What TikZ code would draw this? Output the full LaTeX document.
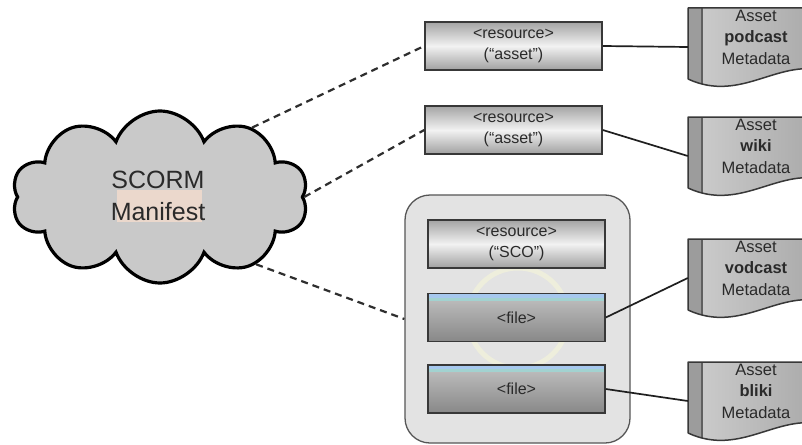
\documentclass[tikz,border=0pt]{standalone}
\usepackage{fontspec}
\setmainfont{Liberation Sans}
\usetikzlibrary{shapes.symbols}

\definecolor{cloudfill}{HTML}{C9C9C9}
\definecolor{peach}{HTML}{EBD8CC}
\definecolor{edge}{HTML}{383838}
\definecolor{textgray}{HTML}{2A2A2A}
\definecolor{boxtop}{HTML}{A4A4A4}
\definecolor{boxmid}{HTML}{F2F2F2}
\definecolor{boxbot}{HTML}{A0A0A0}
\definecolor{filetop}{HTML}{C2C2C2}
\definecolor{filebot}{HTML}{888888}
\definecolor{stripblue}{HTML}{A6C8EE}
\definecolor{stripteal}{HTML}{A2D2D0}
\definecolor{panel}{HTML}{E3E3E3}
\definecolor{ring}{HTML}{EEEEDC}
\definecolor{docleft}{HTML}{9C9C9C}
\definecolor{docA}{HTML}{CACACA}
\definecolor{docB}{HTML}{A6A6A6}

\tikzset{
  resbox/.style={rectangle, draw=edge, line width=1.5pt,
    minimum width=177pt, minimum height=48pt, inner sep=0pt,
    top color=boxtop, bottom color=boxbot, middle color=boxmid,
    align=center, text=textgray, font=\fontsize{16}{21}\selectfont},
  filebox/.style={rectangle, draw=edge, line width=1.5pt,
    minimum width=177pt, minimum height=48pt, inner sep=0pt,
    top color=filetop, bottom color=filebot,
    text=textgray, font=\fontsize{16}{21}\selectfont,
    path picture={
      \fill[stripblue] (path picture bounding box.north west)
        rectangle ([yshift=-4pt]path picture bounding box.north east);
      \fill[stripteal] ([yshift=-4pt]path picture bounding box.north west)
        rectangle ([yshift=-7pt]path picture bounding box.north east);
    }},
  docbox/.style={rectangle, minimum width=140pt, minimum height=74pt, inner sep=0pt},
  doctext/.style={align=center, text=textgray, inner sep=0pt,
    font=\fontsize{16.5}{21.5}\selectfont},
  assoc/.style={draw=black!88, line width=1.7pt},
  manifestlink/.style={draw=black!82, line width=2.2pt, dash pattern=on 7pt off 5pt},
}

% one "Asset ... Metadata" document: node name, top edge, keyword
\newcommand\assetdoc[3]{%
  \begin{scope}
    \clip (688,#2) -- (828,#2) -- (828,#2+64)
      .. controls (780,#2+48) and (742,#2+96) .. (688,#2+71) -- cycle;
    \shade[left color=docA, right color=docB] (702,#2) rectangle (828,#2+100);
    \fill[docleft] (688,#2) rectangle (702,#2+100);
    \draw[edge!80, line width=1.3pt] (702,#2) -- (702,#2+100);
  \end{scope}
  \draw[edge, line width=1.5pt, line join=round]
    (688,#2+71) -- (688,#2) -- (828,#2) -- (828,#2+64)
    .. controls (780,#2+48) and (742,#2+96) .. (688,#2+71);
  \node[docbox] (#1) at (758,#2+39) {};
  \node[doctext] (#1-t) at (756,#2+29) {Asset\\\textbf{#3}\\Metadata};
}

\begin{document}
\begin{tikzpicture}[x=1pt, y=-1pt]
  \useasboundingbox (0,0) rectangle (802,444);
  \clip (0,0) rectangle (802,444);
  \fill[white] (0,0) rectangle (802,444);

  % the manifest cloud
  \node[cloud, cloud puffs=10, cloud puff arc=140, aspect=1.75,
        minimum width=296pt, minimum height=172pt, inner sep=0pt,
        draw=black, line width=3.2pt, fill=cloudfill] (cloud) at (160,197) {};
  \fill[peach] (117,190) rectangle (202,222);
  \node[align=center, text=textgray, font=\fontsize{25}{32}\selectfont]
    (cloudtext) at (158,196) {SCORM\\Manifest};

  % SCO package panel
  \node[rectangle, rounded corners=25pt, draw=edge!85, line width=1.3pt,
        fill=panel, minimum width=225pt, minimum height=248pt]
    (pkg) at (517.5,319) {};
  \draw[ring, line width=5pt] (518,318) circle (50pt);

  % resources
  \node[resbox] (res1) at (513.5,46) {<resource>\\(“asset”)};
  \node[resbox] (res2) at (513.5,130) {<resource>\\(“asset”)};
  \node[resbox] (sco)  at (516.5,244) {<resource>\\(“SCO”)};
  \node[filebox] (file1) at (516.5,317.5) {<file>};
  \node[filebox] (file2) at (516.5,389) {<file>};

  % metadata documents
  \assetdoc{dpod}{8}{podcast}
  \assetdoc{dwiki}{117}{wiki}
  \assetdoc{dvod}{239}{vodcast}
  \assetdoc{dbliki}{362}{bliki}

  % manifest references
  \draw[manifestlink] (cloud.37) -- (res1.west);
  \draw[manifestlink] (cloud.east) -- (res2.west);
  \draw[manifestlink] (cloud.-35) -- (pkg.west);

  % metadata associations
  \draw[assoc] (res1.east) -- (dpod.west);
  \draw[assoc] (res2.east) -- (dwiki.west);
  \draw[assoc] (file1.east) -- (dvod.west);
  \draw[assoc] (file2.east) -- (dbliki.west);
\end{tikzpicture}
\end{document}
